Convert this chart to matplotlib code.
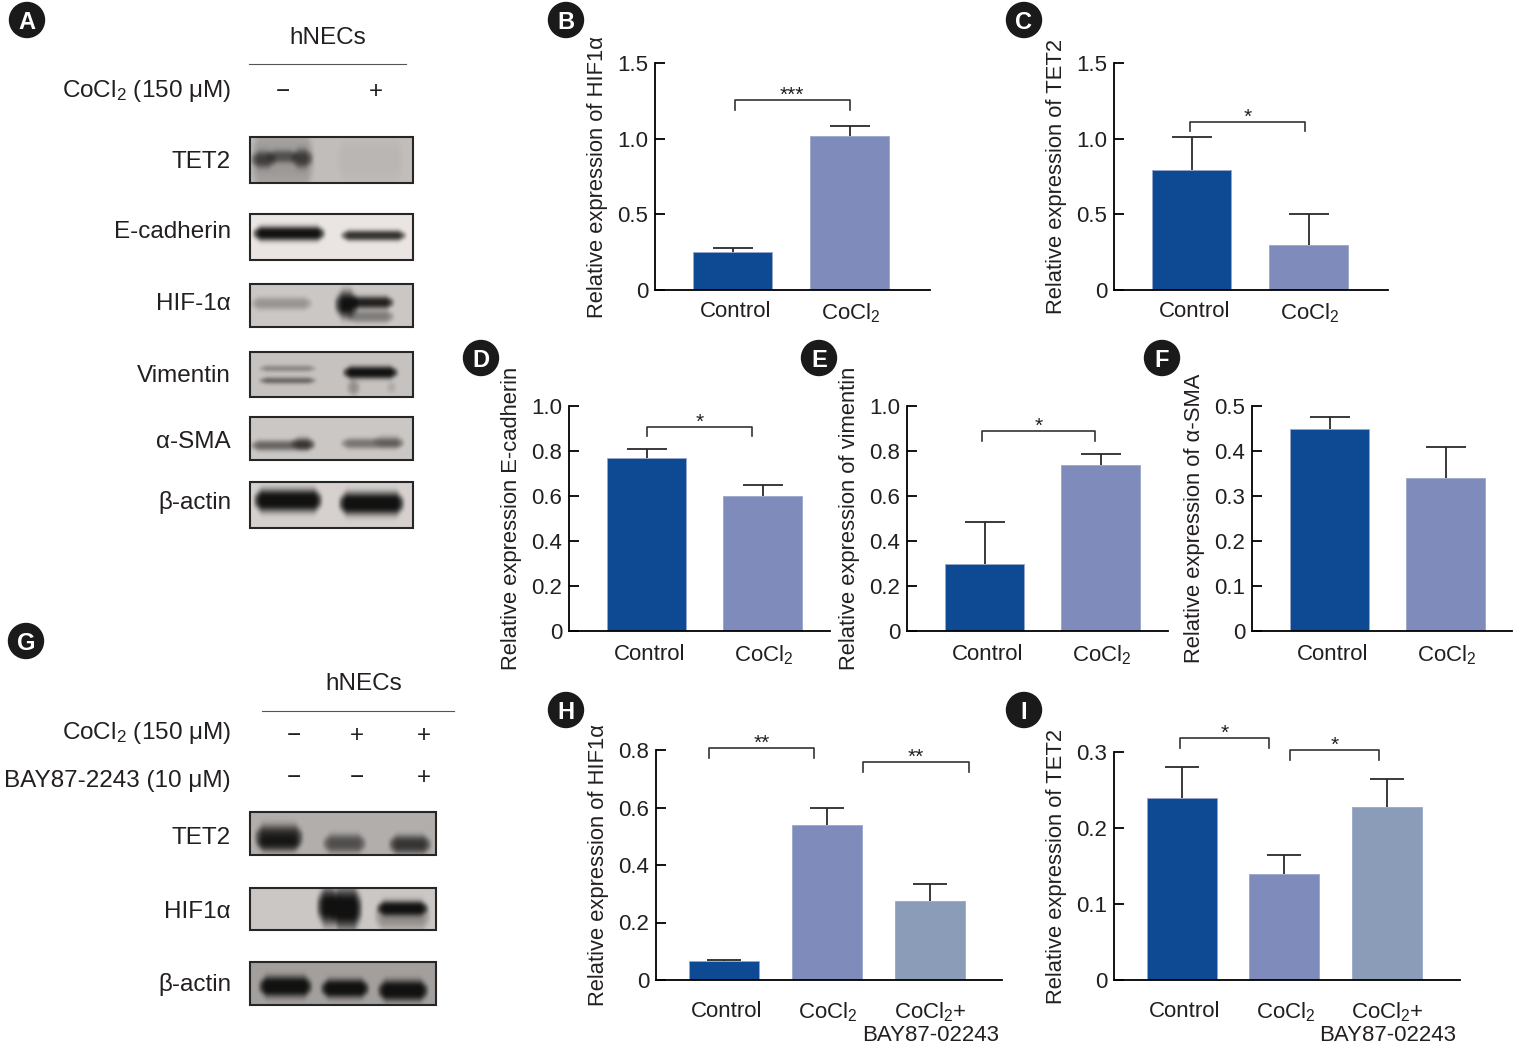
"""Panel figure: western blots and relative expression bar charts (hNECs, CoCl2)."""
import matplotlib
matplotlib.use("Agg")
import matplotlib.pyplot as plt
from matplotlib.patches import Circle, Rectangle
from matplotlib.transforms import ScaledTranslation
import numpy as np

plt.rcParams["font.family"] = ["Liberation Sans", "DejaVu Sans"]
plt.rcParams["mathtext.fontset"] = "custom"
plt.rcParams["mathtext.rm"] = "Liberation Sans"
plt.rcParams["mathtext.default"] = "regular"

W, H = 1518, 1052
TEXT = "#231f20"
BLUE, PERI, SLATE = "#0e4a94", "#7f8cbb", "#8b9cb8"
FONT = 16
LABEL_FONT = 15.8
BLOT_FONT = 17.5

# ---------------------------------------------------------------------------
# data
# ---------------------------------------------------------------------------
two_groups = ["Control", "CoCl$_2$"]
three_groups = ["Control", "CoCl$_2$", "CoCl$_2$+\nBAY87-02243"]

hif1a_mean = [0.25, 1.02]
hif1a_err = [0.025, 0.065]
tet2_mean = [0.79, 0.30]
tet2_err = [0.22, 0.20]
ecad_mean = [0.77, 0.60]
ecad_err = [0.04, 0.05]
vim_mean = [0.30, 0.74]
vim_err = [0.185, 0.045]
sma_mean = [0.45, 0.34]
sma_err = [0.025, 0.07]
hif1a_bay_mean = [0.065, 0.54, 0.275]
hif1a_bay_err = [0.003, 0.06, 0.06]
tet2_bay_mean = [0.24, 0.14, 0.228]
tet2_bay_err = [0.04, 0.025, 0.037]

ticks_15 = [0, 0.5, 1.0, 1.5]
ticks_10 = [0, 0.2, 0.4, 0.6, 0.8, 1.0]
ticks_05 = [0, 0.1, 0.2, 0.3, 0.4, 0.5]
ticks_08 = [0, 0.2, 0.4, 0.6, 0.8]
ticks_03 = [0, 0.1, 0.2, 0.3]

# significance brackets: x from, x to, y top, y of leg ends, stars
hif1a_sig = [(0.02, 1.0, 1.255, 1.19, "***")]
tet2_sig = [(-0.01, 0.97, 1.11, 1.05, "*")]
ecad_sig = [(0.0, 0.91, 0.907, 0.867, "*")]
vim_sig = [(-0.02, 0.95, 0.889, 0.844, "*")]
hif1a_bay_sig = [(-0.136, 0.883, 0.807, 0.772, "**"), (1.35, 2.38, 0.758, 0.723, "**")]
tet2_bay_sig = [(-0.015, 0.85, 0.318, 0.305, "*"), (1.06, 1.93, 0.303, 0.289, "*")]

# blots: label, top, bottom, background, bands (x0, x1, y, half height, strength), label y
blots_a = [
    ("TET2", 137, 183, 0.76, [(250, 314, 160, 30, 0.2), (250, 276, 159, 8, 0.6), (266, 298, 156, 6, 0.48),
                              (290, 313, 158, 9, 0.62), (336, 404, 160, 22, 0.04)], 160),
    ("E-cadherin", 214, 260, 0.92, [(252, 325, 233, 7, 0.97), (340, 406, 235, 5, 0.8)], 230),
    ("HIF-1\u03b1", 284, 327, 0.80, [(250, 312, 303, 6, 0.26), (334, 358, 304, 13, 0.94),
                                     (346, 394, 302, 6, 0.85), (346, 394, 316, 6, 0.38)], 302),
    ("Vimentin", 352, 397, 0.78, [(258, 316, 368, 3, 0.32), (258, 316, 380, 3, 0.5), (342, 398, 372, 6, 0.98),
                                  (346, 360, 387, 9, 0.32), (386, 396, 387, 8, 0.2)], 375),
    ("\u03b1-SMA", 417, 460, 0.80, [(250, 315, 445, 5, 0.5), (290, 315, 443, 6, 0.5),
                                    (340, 404, 443, 5, 0.42), (372, 404, 441, 6, 0.2)], 440),
    ("\u03b2-actin", 482, 528, 0.84, [(253, 322, 500, 11, 1.0), (338, 404, 503, 11, 1.0)], 501),
]
blots_g = [
    ("TET2", 812, 855, 0.70, [(254, 303, 837, 12, 0.8), (256, 300, 843, 7, 0.5), (322, 366, 843, 9, 0.55),
                              (388, 431, 844, 9, 0.7)], 836),
    ("HIF1\u03b1", 888, 930, 0.80, [(316, 340, 906, 18, 0.96), (330, 362, 908, 20, 0.98),
                                    (376, 428, 908, 7, 0.97), (374, 430, 915, 14, 0.3)], 910),
    ("\u03b2-actin", 962, 1005, 0.64, [(258, 312, 986, 10, 1.0), (320, 369, 988, 9, 1.0),
                                       (377, 428, 990, 10, 1.0)], 983),
]


# ---------------------------------------------------------------------------
# helpers
# ---------------------------------------------------------------------------
def px_axes(left, right, top, bottom):
    return fig.add_axes([left / W, 1 - bottom / H, (right - left) / W, (bottom - top) / H],
                        facecolor="none", zorder=2)


def bar_panel(box, first_center, step, width, groups, means, errs, ticks, ticklabels,
              ylabel, sig=(), colors=(BLUE, PERI, SLATE), pad=7):
    left, right, top, bottom = box
    ax = px_axes(left, right, top, bottom)
    x = np.arange(len(groups))
    ax.bar(x, means, width=width / step, color=colors[:len(groups)], edgecolor="#9aa6cc", linewidth=0.6, zorder=2)
    _, caps, _ = ax.errorbar(x, means, yerr=[np.zeros(len(means)), errs], fmt="none", ecolor="#2a2a2a",
                             elinewidth=1.3, capsize=width / 4 / 1.39, capthick=1.3, zorder=3)
    caps[0].set_visible(False)  # upper whisker only
    ax.set_xlim((left - first_center) / step, (right - first_center) / step)
    ax.set_ylim(0, ticks[-1])
    ax.set_xticks(x)
    ax.set_xticklabels(groups, fontsize=FONT, color=TEXT, linespacing=1.05)
    ax.set_yticks(ticks)
    ax.set_yticklabels(ticklabels, fontsize=FONT, color=TEXT)
    ax.tick_params(axis="x", length=0, pad=pad)
    ax.tick_params(axis="y", direction="in", length=7, width=1.3, pad=5)
    # labels sit a little right of the bar centres in the original
    # (has to come after tick_params, which resets the label transform)
    for lab, dx in zip(ax.get_xticklabels(), (3, 1.5, 1)):
        lab.set_transform(lab.get_transform() + ScaledTranslation(dx / 100, 0, fig.dpi_scale_trans))
    for side in ("top", "right"):
        ax.spines[side].set_visible(False)
    for side in ("left", "bottom"):
        ax.spines[side].set_linewidth(1.3)
    ax.set_ylabel(ylabel, fontsize=LABEL_FONT, color=TEXT)
    ax.yaxis.set_label_coords(-47 / (right - left), 0.5)
    for x0, x1, y_top, y_low, stars in sig:
        ax.plot([x0, x0, x1, x1], [y_low, y_top, y_top, y_low], color="#333333", lw=1.2,
                clip_on=False, zorder=3)
        ax.annotate(stars, ((x0 + x1) / 2, y_top), xytext=(0, -3.5), textcoords="offset points",
                    ha="center", va="bottom", fontsize=15, color=TEXT, annotation_clip=False)
    return ax


def blur(img, sigma=1.6):
    r = int(3 * sigma)
    k = np.exp(-0.5 * (np.arange(-r, r + 1) / sigma) ** 2)
    k /= k.sum()
    pad = np.pad(img, r, mode="edge")
    pad = np.apply_along_axis(lambda v: np.convolve(v, k, mode="same"), 0, pad)
    pad = np.apply_along_axis(lambda v: np.convolve(v, k, mode="same"), 1, pad)
    return pad[r:-r, r:-r]


def blot(ov, x0, x1, y0, y1, bg, bands):
    ys, xs = np.mgrid[y0:y1, x0:x1]
    img = np.full(xs.shape, bg, dtype=float)
    for bx0, bx1, yc, hh, strength in bands:
        edge_x = np.clip((xs - bx0) / 8, 0, 1) * np.clip((bx1 - xs) / 8, 0, 1)
        # bands pinch towards their ends, like a real lane
        mask = np.sqrt(edge_x) * np.exp(-np.abs((ys - yc) / (hh * (0.45 + 0.55 * edge_x))) ** 3)
        img *= 1 - strength * mask
    img = blur(np.clip(img, 0.07, 1))
    rgb = np.dstack([img, img * 0.98, img * 0.965])
    ov.imshow(rgb, extent=(x0, x1, y1, y0), aspect="auto", interpolation="bilinear", zorder=1)
    ov.add_patch(Rectangle((x0, y0), x1 - x0, y1 - y0, fill=False, edgecolor="#262626", lw=1.5, zorder=2))


def left_label(ov, y, s):
    ov.text(231, y + 1.5, s, ha="right", va="center", fontsize=BLOT_FONT, color=TEXT)


# ---------------------------------------------------------------------------
# figure
# ---------------------------------------------------------------------------
fig = plt.figure(figsize=(W / 100, H / 100), dpi=100, facecolor="white")
ov = fig.add_axes([0, 0, 1, 1], zorder=1)
ov.axis("off")

# blot panels
for name, y0, y1, bg, bands, ly in blots_a:
    blot(ov, 250, 413, y0, y1, bg, bands)
    left_label(ov, ly, name)
for name, y0, y1, bg, bands, ly in blots_g:
    blot(ov, 250, 436, y0, y1, bg, bands)
    left_label(ov, ly, name)

ov.set_xlim(0, W)
ov.set_ylim(H, 0)

ov.text(328, 37.5, "hNECs", ha="center", va="center", fontsize=BLOT_FONT, color=TEXT)
ov.plot([249, 406], [64, 64], color="#555555", lw=0.8)
left_label(ov, 90, "CoCl$_2$ (150 \u03bcM)")
ov.text(283, 92, "\u2212", ha="center", va="center", fontsize=BLOT_FONT, color=TEXT)
ov.text(376, 92, "+", ha="center", va="center", fontsize=BLOT_FONT, color=TEXT)

ov.text(364, 684.5, "hNECs", ha="center", va="center", fontsize=BLOT_FONT, color=TEXT)
ov.plot([262, 454], [711, 711], color="#555555", lw=0.8)
left_label(ov, 731, "CoCl$_2$ (150 \u03bcM)")
left_label(ov, 780, "BAY87-2243 (10 \u03bcM)")
for x, s1, s2 in zip([294, 357, 424], ["\u2212", "+", "+"], ["\u2212", "\u2212", "+"]):
    ov.text(x, 736, s1, ha="center", va="center", fontsize=BLOT_FONT, color=TEXT)
    ov.text(x, 778, s2, ha="center", va="center", fontsize=BLOT_FONT, color=TEXT)

# panel badges
for letter, cx, cy in [("A", 27, 20), ("B", 566, 20), ("C", 1024, 20), ("D", 481, 358), ("E", 819, 358),
                       ("F", 1162, 358), ("G", 26, 641), ("H", 566, 710), ("I", 1024, 710)]:
    ov.add_patch(Circle((cx, cy), 17.5, color="#1a1a1a", zorder=3))
    ov.text(cx, cy, letter, ha="center", va="center_baseline", fontsize=17, fontweight="bold",
            color="white", zorder=4)

# bar panels
bar_panel((655, 930, 63, 290), 732.5, 117, 79, two_groups, hif1a_mean, hif1a_err, ticks_15,
          ["0", "0.5", "1.0", "1.5"], "Relative expression of HIF1\u03b1", hif1a_sig, pad=8)
bar_panel((1114, 1388, 63, 290), 1191.5, 117, 79, two_groups, tet2_mean, tet2_err, ticks_15,
          ["0", "0.5", "1.0", "1.5"], "Relative expression of TET2", tet2_sig, pad=8)
bar_panel((569, 830, 406, 631), 646.5, 116, 79, two_groups, ecad_mean, ecad_err, ticks_10,
          ["0", "0.2", "0.4", "0.6", "0.8", "1.0"], "Relative expression E-cadherin", ecad_sig, pad=9)
bar_panel((907, 1168, 406, 631), 984.5, 116, 79, two_groups, vim_mean, vim_err, ticks_10,
          ["0", "0.2", "0.4", "0.6", "0.8", "1.0"], "Relative expression of vimentin", vim_sig, pad=9)
bar_panel((1252, 1512, 406, 631), 1329.5, 116, 79, two_groups, sma_mean, sma_err, ticks_05,
          ["0", "0.1", "0.2", "0.3", "0.4", "0.5"], "Relative expression of \u03b1-SMA", pad=9)
bar_panel((656, 1002, 750, 980), 723.5, 103, 70, three_groups, hif1a_bay_mean, hif1a_bay_err, ticks_08,
          ["0", "0.2", "0.4", "0.6", "0.8"], "Relative expression of HIF1\u03b1", hif1a_bay_sig, pad=15)
bar_panel((1114, 1460, 752, 980), 1181.5, 102.5, 70, three_groups, tet2_bay_mean, tet2_bay_err, ticks_03,
          ["0", "0.1", "0.2", "0.3"], "Relative expression of TET2", tet2_bay_sig, pad=15)

fig.savefig("out.png", dpi=100)
